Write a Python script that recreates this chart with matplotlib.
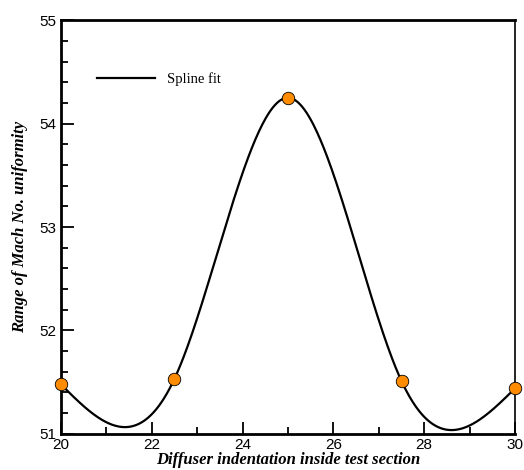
import matplotlib.pyplot as plt
import numpy as np
from matplotlib.ticker import MultipleLocator

# data
indent = np.array([20.0, 22.5, 25.0, 27.5, 30.0])
mach_range = np.array([51.48, 51.53, 54.25, 51.51, 51.44])


def natural_spline(x, y, xs):
    # natural cubic spline through the points
    n = len(x)
    h = np.diff(x)
    A = np.zeros((n, n))
    b = np.zeros(n)
    A[0, 0] = A[-1, -1] = 1.0
    for i in range(1, n - 1):
        A[i, i - 1] = h[i - 1]
        A[i, i] = 2 * (h[i - 1] + h[i])
        A[i, i + 1] = h[i]
        b[i] = 6 * ((y[i + 1] - y[i]) / h[i] - (y[i] - y[i - 1]) / h[i - 1])
    M = np.linalg.solve(A, b)
    idx = np.clip(np.searchsorted(x, xs) - 1, 0, n - 2)
    x0, x1 = x[idx], x[idx + 1]
    hh = x1 - x0
    t0, t1 = x1 - xs, xs - x0
    return (M[idx] * t0**3 / (6 * hh) + M[idx + 1] * t1**3 / (6 * hh)
            + (y[idx] / hh - M[idx] * hh / 6) * t0
            + (y[idx + 1] / hh - M[idx + 1] * hh / 6) * t1)


xs = np.linspace(indent[0], indent[-1], 400)
ys = natural_spline(indent, mach_range, xs)

fig = plt.figure(figsize=(5.24, 4.70), dpi=100)
ax = fig.add_axes([0.116, 0.077, 0.867, 0.880])

ax.plot(xs, ys, color='black', lw=1.6, label='Spline fit')
ax.plot(indent, mach_range, 'o', color='#FF8C00', mec='black', mew=0.6,
        ms=9, clip_on=False, zorder=3)

ax.set_xlim(20, 30)
ax.set_ylim(51, 55)
ax.xaxis.set_major_locator(MultipleLocator(2))
ax.xaxis.set_minor_locator(MultipleLocator(1))
ax.yaxis.set_major_locator(MultipleLocator(1))
ax.yaxis.set_minor_locator(MultipleLocator(0.2))
ax.tick_params(which='both', direction='in', width=1.3, labelsize=11)
ax.tick_params(which='major', length=9, pad=3)
ax.tick_params(which='minor', length=5)
for lab in ax.get_xticklabels() + ax.get_yticklabels():
    lab.set_family('Liberation Sans')
for s in ['left', 'bottom', 'top']:
    ax.spines[s].set_linewidth(2)
ax.spines['right'].set_linewidth(1.2)

ax.set_xlabel('Diffuser indentation inside test section', family='Liberation Serif',
              fontsize=12, fontweight='bold', style='italic', labelpad=0)
ax.set_ylabel('Range of Mach No. uniformity', family='Liberation Serif',
              fontsize=12, fontweight='bold', style='italic', labelpad=8)

ax.legend(loc='upper left', bbox_to_anchor=(0.05, 0.905), frameon=False,
          prop={'family': 'Liberation Serif', 'size': 10.5}, handlelength=4)

fig.savefig('out.png', dpi=100)
